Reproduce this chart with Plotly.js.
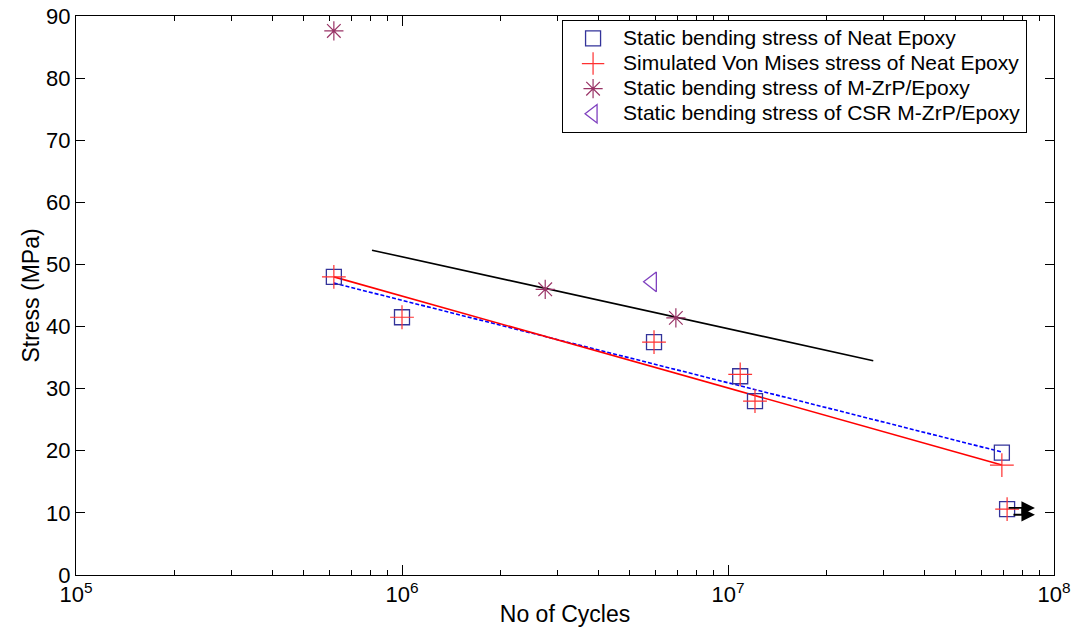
<!DOCTYPE html>
<html>
<head>
<meta charset="utf-8">
<script src="https://cdn.plot.ly/plotly-3.0.1.min.js"></script>
<style>html,body{margin:0;padding:0;background:#fff;}#chart{width:1072px;height:627px;}</style>
</head>
<body>
<div id="chart"></div>
<script>
// Static bending stress of Neat Epoxy
const neatCycles = [6.18e5, 1.0e6, 5.93e6, 1.09e7, 1.21e7, 6.92e7, 7.18e7];
const neatStress = [48.0, 41.5, 37.5, 32.0, 28.0, 19.7, 10.6];
// Simulated Von Mises stress of Neat Epoxy
const vmCycles = [6.18e5, 1.0e6, 5.93e6, 1.09e7, 1.21e7, 6.92e7, 7.18e7];
const vmStress = [48.0, 41.5, 37.5, 32.3, 28.0, 17.7, 10.6];
// Static bending stress of M-ZrP/Epoxy
const zrpCycles = [6.18e5, 2.75e6, 6.92e6];
const zrpStress = [87.6, 46.0, 41.4];
// Static bending stress of CSR M-ZrP/Epoxy
const csrCycles = [5.85e6];
const csrStress = [47.2];
// Fit lines
const fitZrpCycles = [8.09e5, 2.79e7];
const fitZrpStress = [52.3, 34.5];
const fitVmCycles = [6.18e5, 6.92e7];
const fitVmStress = [48.0, 17.7];
const fitNeatCycles = [6.18e5, 6.92e7];
const fitNeatStress = [47.0, 19.8];
// Run-out arrows (tail -> head)
const runTailCycles = [7.18e7, 7.43e7];
const runHeadCycles = [8.74e7, 8.74e7];
const runStress = [10.8, 9.7];
// Legend names
const seriesNames = [
  'Static bending stress of Neat Epoxy',
  'Simulated Von Mises stress of Neat Epoxy',
  'Static bending stress of M-ZrP/Epoxy',
  'Static bending stress of CSR M-ZrP/Epoxy'
];
// Tick labels
const xTickVals = [1e5, 1e6, 1e7, 1e8];
const xTickText = ['10<sup>5</sup>', '10<sup>6</sup>', '10<sup>7</sup>', '10<sup>8</sup>'];
const yTickVals = [0, 10, 20, 30, 40, 50, 60, 70, 80, 90];

const big = s => '<span style="font-size:21px">' + s + '</span>';

const traces = [
  {x: fitZrpCycles, y: fitZrpStress, mode: 'lines', line: {color: '#000000', width: 1.6}, showlegend: false, hoverinfo: 'skip'},
  {x: fitNeatCycles, y: fitNeatStress, mode: 'lines', line: {color: '#0000ff', width: 1.6, dash: '4px,2px'}, showlegend: false, hoverinfo: 'skip'},
  {x: fitVmCycles, y: fitVmStress, mode: 'lines', line: {color: '#ff0000', width: 1.6}, showlegend: false, hoverinfo: 'skip'},
  {x: neatCycles, y: neatStress, mode: 'markers', name: big(seriesNames[0]),
   marker: {symbol: 'square-open', size: 15, color: '#33339a', line: {width: 1.3, color: '#33339a'}}},
  {x: vmCycles, y: vmStress, mode: 'markers', name: big(seriesNames[1]),
   marker: {symbol: 'cross-thin-open', size: 17, color: '#ff3030', line: {width: 1.2, color: '#ff3030'}}},
  {x: zrpCycles, y: zrpStress, mode: 'markers', name: big(seriesNames[2]),
   marker: {symbol: 'asterisk-open', size: 16, color: '#993366', line: {width: 1.2, color: '#993366'}}},
  {x: csrCycles, y: csrStress, mode: 'markers', name: big(seriesNames[3]),
   marker: {symbol: 'triangle-left-open', size: 17, color: '#7f40bf', line: {width: 1.3, color: '#7f40bf'}}}
];

const annotations = runStress.map((s, i) => ({
  x: Math.log10(runHeadCycles[i]), y: s, ax: Math.log10(runTailCycles[i]), ay: s,
  xref: 'x', yref: 'y', axref: 'x', ayref: 'y', text: '', showarrow: true,
  arrowhead: 2, arrowsize: 1.5, arrowwidth: 1.8, arrowcolor: '#000000'
}));

const font = {family: 'Liberation Sans, Arial, sans-serif', color: '#000000'};

const layout = {
  width: 1072, height: 627,
  margin: {l: 76, r: 18, t: 16, b: 52},
  paper_bgcolor: '#ffffff', plot_bgcolor: '#ffffff',
  font: Object.assign({size: 21}, font),
  showlegend: true,
  xaxis: {
    type: 'log', range: [5, 8], tickvals: xTickVals, ticktext: xTickText,
    ticks: 'inside', ticklen: 10, tickcolor: '#000', tickwidth: 1,
    minor: {ticks: 'inside', ticklen: 5, tickcolor: '#000', dtick: 'D1', showgrid: false},
    showline: true, linecolor: '#000', linewidth: 1, mirror: 'ticks',
    showgrid: false, zeroline: false,
    tickfont: Object.assign({size: 22}, font),
    title: {text: 'No of Cycles', font: Object.assign({size: 23}, font), standoff: 0}
  },
  yaxis: {
    range: [0, 90], tickvals: yTickVals,
    ticks: 'inside', ticklen: 9, tickcolor: '#000', tickwidth: 1,
    showline: true, linecolor: '#000', linewidth: 1, mirror: 'ticks',
    showgrid: false, zeroline: false,
    tickfont: Object.assign({size: 22}, font),
    title: {text: 'Stress (MPa)', font: Object.assign({size: 23}, font), standoff: 0}
  },
  legend: {
    x: 0.497, y: 0.993, xanchor: 'left', yanchor: 'top',
    bgcolor: '#ffffff', bordercolor: '#000000', borderwidth: 1,
    font: Object.assign({size: 17}, font), itemwidth: 50, tracegroupgap: 0
  },
  annotations: annotations
};

Plotly.newPlot('chart', traces, layout, {displayModeBar: false, staticPlot: true});
</script>
</body>
</html>
